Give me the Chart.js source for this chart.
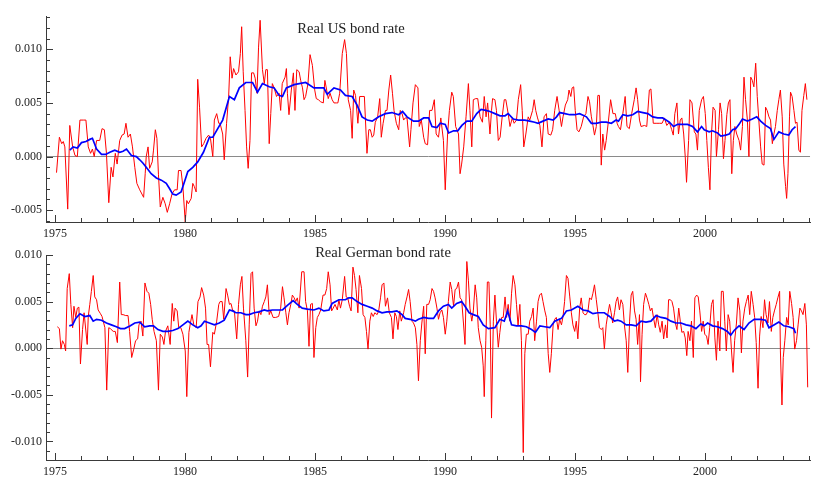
<!DOCTYPE html>
<html>
<head>
<meta charset="utf-8">
<script src="https://cdn.jsdelivr.net/npm/chart.js@4/dist/chart.umd.min.js"></script>
<style>
  html, body { margin: 0; padding: 0; background: #fff; }
  #wrap { position: relative; width: 814px; height: 477px; }
  canvas { position: absolute; left: 0; }
  #c1 { top: 0; }
  #c2 { top: 240px; }
</style>
</head>
<body>
<div id="wrap">
  <canvas id="c1" width="814" height="240"></canvas>
  <canvas id="c2" width="814" height="237"></canvas>
</div>
<script>
// ---------- DATA ----------
const titleUS = "Real US bond rate";
const titleDE = "Real German bond rate";

const xTickYears = [1975,1976,1977,1978,1979,1980,1981,1982,1983,1984,1985,1986,1987,1988,1989,1990,1991,1992,1993,1994,1995,1996,1997,1998,1999,2000,2001,2002,2003,2004];
const xLabelYears = [1975,1980,1985,1990,1995,2000];

const yTicksUS = [-0.006,-0.005,-0.004,-0.003,-0.002,-0.001,0,0.001,0.002,0.003,0.004,0.005,0.006,0.007,0.008,0.009,0.010,0.011,0.012,0.013];
const yLabelsUS = [-0.005,0,0.005,0.010];
const yTicksDE = [-0.012,-0.011,-0.010,-0.009,-0.008,-0.007,-0.006,-0.005,-0.004,-0.003,-0.002,-0.001,0,0.001,0.002,0.003,0.004,0.005,0.006,0.007,0.008,0.009,0.010];
const yLabelsDE = [-0.010,-0.005,0,0.005,0.010];

// Real US bond rate, [year, value]
const usRate = [
[1975.06,-0.0015],[1975.17,0.0018],[1975.26,0.0012],[1975.32,0.0014],[1975.38,0.0009],[1975.49,-0.0049],[1975.57,0.0029],[1975.68,0.0009],[1975.77,0.0001],[1975.86,0.0000],
[1975.96,0.0034],[1976.09,0.0034],[1976.19,0.0034],[1976.28,0.0009],[1976.37,0.0003],[1976.44,0.0007],[1976.51,0.0000],[1976.60,0.0015],[1976.72,0.0015],[1976.81,0.0026],
[1976.90,0.0025],[1976.98,0.0003],[1977.07,-0.0043],[1977.16,-0.0010],[1977.23,-0.0019],[1977.32,0.0003],[1977.39,-0.0007],[1977.49,0.0015],[1977.58,0.0020],[1977.66,0.0021],
[1977.73,0.0031],[1977.81,0.0018],[1977.90,0.0021],[1977.98,0.0009],[1978.07,-0.0010],[1978.15,-0.0025],[1978.26,-0.0031],[1978.41,-0.0038],[1978.47,-0.0016],[1978.51,0.0000],
[1978.58,0.0009],[1978.64,-0.0011],[1978.74,-0.0005],[1978.79,0.0006],[1978.86,0.0025],[1978.92,0.0017],[1978.98,-0.0017],[1979.05,-0.0047],[1979.15,-0.0038],[1979.24,-0.0044],
[1979.32,-0.0052],[1979.41,-0.0044],[1979.50,-0.0035],[1979.60,-0.0031],[1979.70,-0.0031],[1979.75,-0.0013],[1979.85,-0.0013],[1979.92,-0.0028],[1980.01,-0.0061],[1980.07,-0.0041],
[1980.13,-0.0044],[1980.24,-0.0039],[1980.30,-0.0025],[1980.36,-0.0028],[1980.43,-0.0033],[1980.49,0.0072],[1980.56,0.0046],[1980.64,0.0009],[1980.72,0.0012],[1980.81,0.0017],
[1980.91,0.0020],[1980.98,0.0017],[1981.07,0.0000],[1981.13,0.0034],[1981.22,0.0040],[1981.30,0.0031],
[1981.35,0.0031],[1981.45,0.0021],[1981.51,-0.0003],[1981.60,0.0031],[1981.68,0.0056],[1981.74,0.0093],[1981.81,0.0073],[1981.87,0.0082],[1981.96,0.0076],[1982.06,0.0079],
[1982.13,0.0096],[1982.18,0.0121],[1982.24,0.0079],[1982.31,0.0043],[1982.37,0.0009],[1982.43,-0.0011],[1982.50,0.0015],[1982.56,0.0078],[1982.64,0.0078],[1982.70,0.0073],
[1982.77,0.0059],[1982.83,0.0102],[1982.89,0.0127],[1982.98,0.0081],[1983.05,0.0068],[1983.11,0.0081],[1983.17,0.0081],[1983.24,0.0012],[1983.30,0.0040],[1983.36,0.0068],
[1983.43,0.0064],[1983.52,0.0056],[1983.62,0.0059],[1983.68,0.0043],[1983.74,0.0068],[1983.85,0.0074],[1983.90,0.0082],[1983.94,0.0059],[1984.00,0.0039],[1984.09,0.0062],
[1984.17,0.0078],[1984.23,0.0043],[1984.30,0.0081],[1984.39,0.0079],[1984.45,0.0071],[1984.52,0.0064],[1984.58,0.0053],[1984.64,0.0056],[1984.73,0.0068],[1984.81,0.0095],
[1984.90,0.0085],[1984.99,0.0062],[1985.05,0.0054],[1985.13,0.0053],[1985.22,0.0051],[1985.32,0.0050],[1985.38,0.0071],[1985.45,0.0062],[1985.51,0.0054],[1985.58,0.0059],
[1985.66,0.0053],[1985.73,0.0050],[1985.82,0.0050],[1985.88,0.0050],[1985.95,0.0059],[1986.05,0.0096],[1986.14,0.0109],[1986.21,0.0096],[1986.28,0.0053],[1986.37,0.0043],
[1986.43,0.0017],[1986.49,0.0062],[1986.56,0.0057],[1986.65,0.0031],[1986.72,0.0056],[1986.81,0.0056],[1986.90,0.0056],[1987.00,0.0003],[1987.07,0.0025],[1987.13,0.0025],
[1987.20,0.0018],[1987.26,0.0020],[1987.32,0.0032],[1987.41,0.0037],[1987.49,0.0054],[1987.55,0.0018],[1987.62,0.0031],[1987.71,0.0043],[1987.77,0.0043],[1987.84,0.0062],
[1987.91,0.0076],[1987.98,0.0059],[1988.04,0.0043],[1988.13,0.0031],[1988.22,0.0025],[1988.28,0.0043],[1988.35,0.0040],[1988.41,0.0034],[1988.47,0.0036],[1988.54,0.0036],
[1988.64,0.0009],[1988.69,0.0025],[1988.77,0.0050],[1988.86,0.0067],[1988.96,0.0064],
[1989.01,0.0028],[1989.09,0.0034],[1989.18,0.0018],[1989.24,0.0012],[1989.33,0.0011],[1989.41,0.0043],[1989.50,0.0043],[1989.59,0.0053],[1989.66,0.0021],[1989.75,0.0018],
[1989.84,0.0036],[1989.94,0.0015],[1990.01,-0.0031],[1990.10,0.0021],[1990.17,0.0043],[1990.26,0.0060],[1990.32,0.0056],[1990.41,0.0028],[1990.52,0.0021],[1990.58,-0.0016],
[1990.64,-0.0007],[1990.72,0.0009],[1990.81,0.0037],[1990.90,0.0068],[1990.96,0.0043],[1991.03,0.0009],[1991.09,0.0053],[1991.18,0.0054],[1991.26,0.0054],[1991.35,0.0037],
[1991.44,0.0032],[1991.51,0.0056],[1991.58,0.0037],[1991.64,0.0050],[1991.73,0.0021],[1991.79,0.0043],[1991.83,0.0054],[1991.92,0.0053],[1991.98,0.0043],[1992.05,0.0015],
[1992.12,0.0018],[1992.20,0.0037],[1992.28,0.0053],[1992.34,0.0053],[1992.43,0.0040],[1992.50,0.0028],[1992.59,0.0036],[1992.66,0.0031],[1992.75,0.0034],[1992.82,0.0053],
[1992.91,0.0067],[1992.97,0.0043],[1993.03,0.0009],[1993.11,0.0021],[1993.20,0.0037],[1993.26,0.0034],[1993.37,0.0043],[1993.43,0.0053],[1993.49,0.0043],[1993.56,0.0036],
[1993.65,0.0029],[1993.73,0.0009],[1993.81,0.0037],[1993.90,0.0040],[1993.97,0.0021],[1994.07,0.0020],[1994.14,0.0025],[1994.22,0.0043],[1994.31,0.0056],[1994.39,0.0043],
[1994.48,0.0028],[1994.54,0.0037],[1994.63,0.0048],[1994.72,0.0053],[1994.77,0.0062],[1994.84,0.0056],[1994.89,0.0064],[1994.95,0.0065],[1995.01,0.0043],[1995.08,0.0025],
[1995.15,0.0023],[1995.24,0.0028],[1995.33,0.0037],[1995.42,0.0040],[1995.50,0.0056],[1995.56,0.0051],[1995.63,0.0037],[1995.69,0.0029],[1995.75,0.0020],[1995.82,0.0028],
[1995.88,0.0057],[1995.94,0.0057],[1996.01,-0.0008],[1996.07,0.0021],[1996.14,0.0006],[1996.20,0.0015],[1996.29,0.0034],[1996.37,0.0053],[1996.46,0.0040],[1996.55,0.0040],
[1996.62,0.0031],
[1996.67,0.0028],[1996.75,0.0025],[1996.84,0.0040],[1996.93,0.0056],[1997.00,0.0028],[1997.09,0.0026],[1997.18,0.0040],[1997.28,0.0053],[1997.35,0.0064],[1997.41,0.0053],
[1997.48,0.0034],[1997.54,0.0028],[1997.67,0.0029],[1997.76,0.0028],[1997.86,0.0062],[1997.92,0.0063],[1998.01,0.0031],[1998.12,0.0031],[1998.24,0.0031],[1998.35,0.0031],
[1998.44,0.0036],[1998.53,0.0029],[1998.63,0.0032],[1998.72,0.0025],[1998.78,0.0020],[1998.84,0.0040],[1998.92,0.0050],[1998.98,0.0021],[1999.05,0.0034],[1999.11,0.0036],
[1999.18,0.0021],[1999.24,0.0000],[1999.29,-0.0024],[1999.37,0.0015],[1999.42,0.0053],[1999.50,0.0050],[1999.59,0.0023],[1999.65,0.0021],[1999.71,0.0006],[1999.78,0.0043],
[1999.87,0.0053],[1999.94,0.0056],[2000.01,0.0040],[2000.07,0.0015],[2000.13,-0.0010],[2000.19,-0.0031],[2000.25,0.0021],[2000.31,0.0046],[2000.39,0.0043],[2000.44,0.0000],
[2000.52,0.0025],[2000.58,0.0050],[2000.64,0.0040],[2000.71,-0.0002],[2000.77,0.0015],[2000.84,0.0039],[2000.90,0.0050],[2000.96,0.0053],[2001.03,-0.0016],[2001.09,0.0015],
[2001.15,0.0028],[2001.22,0.0021],[2001.31,0.0015],[2001.37,0.0006],[2001.44,0.0028],[2001.50,0.0074],[2001.56,0.0053],[2001.63,0.0034],[2001.69,0.0000],[2001.76,0.0074],
[2001.82,0.0071],[2001.88,0.0065],[2001.95,0.0087],[2002.01,0.0056],[2002.07,0.0034],[2002.14,0.0009],[2002.20,-0.0007],[2002.27,-0.0008],[2002.33,0.0046],[2002.39,0.0043],
[2002.46,0.0037],[2002.52,0.0034],[2002.59,0.0012],[2002.65,0.0021],[2002.71,0.0028],[2002.78,0.0043],[2002.84,0.0053],[2002.90,0.0062],[2002.97,0.0037],[2003.03,-0.0007],
[2003.10,-0.0028],[2003.14,-0.0039],[2003.19,-0.0016],[2003.25,0.0037],[2003.29,0.0060],[2003.35,0.0056],[2003.42,0.0043],[2003.48,0.0031],[2003.54,0.0032],[2003.61,0.0006],
[2003.67,0.0004],[2003.73,0.0043],[2003.80,0.0057],[2003.86,0.0068],[2003.92,0.0053]
];

// Smoothed US rate (blue), [year, value]
const usSmooth = [
[1975.57,0.0006],[1975.70,0.0009],[1975.86,0.0008],[1976.02,0.0013],[1976.19,0.0014],[1976.34,0.0016],[1976.44,0.0017],[1976.60,0.0007],[1976.79,0.0002],[1976.95,0.0002],
[1977.11,0.0004],[1977.30,0.0006],[1977.49,0.0004],[1977.62,0.0005],[1977.75,0.0007],[1977.94,0.0001],[1978.13,0.0000],[1978.26,-0.0003],[1978.38,-0.0006],[1978.51,-0.0010],
[1978.70,-0.0016],[1978.90,-0.0020],[1979.09,-0.0022],[1979.28,-0.0025],[1979.41,-0.0030],[1979.53,-0.0035],[1979.66,-0.0036],[1979.85,-0.0033],[1980.00,-0.0022],[1980.11,-0.0014],
[1980.30,-0.0010],[1980.49,-0.0005],[1980.71,0.0004],[1980.94,0.0018],[1981.07,0.0018],[1981.26,0.0026],
[1981.45,0.0034],[1981.71,0.0056],[1981.90,0.0053],[1982.09,0.0064],[1982.34,0.0069],[1982.60,0.0069],[1982.79,0.0060],[1982.98,0.0068],[1983.24,0.0065],[1983.43,0.0064],
[1983.62,0.0057],[1983.75,0.0056],[1983.90,0.0064],[1984.20,0.0067],[1984.64,0.0069],[1984.96,0.0064],[1985.34,0.0064],[1985.47,0.0058],[1985.73,0.0064],[1985.98,0.0062],
[1986.17,0.0057],[1986.43,0.0056],[1986.62,0.0048],[1986.81,0.0037],[1987.01,0.0034],[1987.20,0.0033],[1987.45,0.0037],[1987.71,0.0040],[1987.96,0.0041],[1988.22,0.0039],
[1988.37,0.0042],[1988.54,0.0037],[1988.79,0.0033],[1988.98,0.0033],
[1989.18,0.0036],[1989.37,0.0036],[1989.50,0.0028],[1989.69,0.0027],[1989.82,0.0031],[1990.01,0.0030],[1990.14,0.0022],[1990.33,0.0024],[1990.49,0.0024],[1990.65,0.0029],
[1990.84,0.0033],[1991.03,0.0033],[1991.22,0.0040],[1991.39,0.0044],[1991.57,0.0043],[1991.73,0.0042],[1991.92,0.0040],[1992.12,0.0038],[1992.31,0.0038],[1992.43,0.0040],
[1992.63,0.0035],[1992.82,0.0034],[1993.07,0.0034],[1993.26,0.0033],[1993.45,0.0032],[1993.58,0.0031],[1993.77,0.0033],[1993.97,0.0035],[1994.16,0.0034],[1994.29,0.0037],
[1994.41,0.0041],[1994.61,0.0040],[1994.80,0.0039],[1994.99,0.0039],[1995.18,0.0040],[1995.44,0.0037],[1995.63,0.0031],[1995.82,0.0031],[1996.01,0.0032],[1996.20,0.0032],
[1996.40,0.0031],[1996.58,0.0034],
[1996.67,0.0033],[1996.84,0.0039],[1997.03,0.0038],[1997.22,0.0039],[1997.41,0.0042],[1997.61,0.0041],[1997.80,0.0040],[1997.99,0.0037],[1998.18,0.0036],[1998.37,0.0036],
[1998.50,0.0034],[1998.63,0.0032],[1998.79,0.0028],[1998.95,0.0030],[1999.14,0.0030],[1999.33,0.0030],[1999.52,0.0028],[1999.71,0.0023],[1999.87,0.0028],[1999.97,0.0025],
[2000.16,0.0023],[2000.29,0.0024],[2000.48,0.0022],[2000.61,0.0019],[2000.80,0.0020],[2000.93,0.0021],[2001.06,0.0025],[2001.18,0.0026],[2001.31,0.0030],[2001.44,0.0035],
[2001.63,0.0033],[2001.82,0.0035],[2001.99,0.0037],[2002.14,0.0033],[2002.33,0.0029],[2002.52,0.0026],[2002.65,0.0016],[2002.84,0.0023],[2003.03,0.0021],[2003.22,0.0020],
[2003.35,0.0025],[2003.48,0.0028]
];

// Real German bond rate, [year, value]
const deRate = [
[1975.09,0.0023],[1975.17,0.0021],[1975.23,-0.0001],[1975.29,0.0008],[1975.36,0.0004],[1975.41,-0.0003],[1975.47,0.0064],[1975.55,0.0080],[1975.61,0.0047],[1975.68,0.0022],
[1975.73,0.0045],[1975.80,0.0033],[1975.86,0.0043],[1975.92,0.0044],[1975.98,-0.0017],[1976.06,0.0020],[1976.12,0.0038],[1976.24,0.0004],[1976.28,0.0034],[1976.34,0.0047],
[1976.40,0.0061],[1976.47,0.0078],[1976.53,0.0055],[1976.60,0.0052],[1976.66,0.0041],[1976.75,0.0037],[1976.81,0.0034],[1976.92,0.0022],[1976.99,-0.0045],[1977.07,0.0022],
[1977.13,0.0021],[1977.24,0.0018],[1977.32,0.0018],[1977.40,0.0006],[1977.49,0.0071],[1977.55,0.0036],[1977.62,0.0036],[1977.72,0.0035],[1977.81,0.0035],[1977.87,0.0018],
[1977.95,-0.0010],[1978.03,-0.0001],[1978.10,0.0008],[1978.18,0.0010],[1978.23,0.0025],[1978.31,0.0029],[1978.38,0.0013],[1978.46,0.0070],[1978.54,0.0061],[1978.61,0.0059],
[1978.68,0.0047],[1978.74,0.0031],[1978.81,0.0018],[1978.90,0.0008],[1978.98,-0.0045],[1979.05,0.0015],[1979.13,0.0012],[1979.19,0.0004],[1979.25,0.0018],[1979.34,0.0024],
[1979.43,0.0004],[1979.51,0.0048],[1979.57,0.0029],[1979.62,0.0043],[1979.70,0.0040],[1979.76,0.0022],[1979.84,0.0022],[1979.92,0.0015],[1980.01,-0.0003],[1980.07,-0.0052],
[1980.15,0.0017],[1980.21,0.0027],[1980.27,0.0036],[1980.34,0.0025],[1980.43,0.0022],[1980.50,0.0050],[1980.58,0.0055],[1980.64,0.0065],[1980.72,0.0057],[1980.79,0.0043],
[1980.85,0.0004],[1980.91,0.0004],[1980.98,-0.0020],[1981.07,0.0017],[1981.13,0.0015],[1981.22,0.0029],[1981.30,0.0047],
[1981.35,0.0050],[1981.43,0.0050],[1981.49,0.0031],[1981.58,0.0064],[1981.64,0.0057],[1981.71,0.0047],[1981.77,0.0048],[1981.83,0.0041],[1981.90,0.0040],[1981.99,0.0010],
[1982.06,0.0047],[1982.13,0.0068],[1982.19,0.0077],[1982.25,0.0043],[1982.34,0.0008],[1982.41,-0.0031],[1982.47,0.0025],[1982.54,0.0080],[1982.60,0.0082],[1982.66,0.0043],
[1982.73,0.0024],[1982.79,0.0029],[1982.85,0.0040],[1982.92,0.0036],[1982.98,0.0045],[1983.05,0.0050],[1983.11,0.0055],[1983.17,0.0068],[1983.24,0.0036],[1983.30,0.0040],
[1983.39,0.0033],[1983.49,0.0033],[1983.60,0.0034],[1983.68,0.0043],[1983.75,0.0066],[1983.81,0.0054],[1983.88,0.0038],[1983.94,0.0025],[1984.00,0.0038],[1984.07,0.0047],
[1984.13,0.0057],[1984.20,0.0054],[1984.26,0.0050],[1984.32,0.0054],[1984.39,0.0043],[1984.49,0.0082],[1984.58,0.0082],[1984.64,0.0050],[1984.71,0.0040],[1984.77,0.0002],
[1984.83,0.0047],[1984.90,0.0048],[1984.96,-0.0010],[1985.03,0.0022],[1985.09,0.0033],[1985.15,0.0036],[1985.22,0.0041],[1985.31,0.0057],[1985.38,0.0057],[1985.45,0.0064],
[1985.51,0.0082],[1985.58,0.0068],[1985.64,0.0040],[1985.70,0.0043],[1985.77,0.0047],[1985.86,0.0041],[1985.92,0.0052],[1985.98,0.0043],[1986.05,0.0052],[1986.14,0.0077],
[1986.20,0.0055],[1986.26,0.0054],[1986.33,0.0045],[1986.39,0.0040],[1986.46,0.0087],[1986.52,0.0078],[1986.58,0.0063],[1986.65,0.0038],[1986.71,0.0078],[1986.79,0.0064],
[1986.85,0.0036],[1986.92,0.0033],[1986.98,0.0018],[1987.04,-0.0001],[1987.11,0.0029],[1987.17,0.0038],[1987.24,0.0034],[1987.30,0.0038],[1987.39,0.0036],[1987.45,0.0040],
[1987.52,0.0054],[1987.58,0.0068],[1987.65,0.0070],[1987.71,0.0045],[1987.79,0.0054],[1987.86,0.0038],[1987.94,0.0033],[1988.00,0.0010],[1988.07,0.0038],[1988.13,0.0034],
[1988.19,0.0020],[1988.26,0.0040],[1988.32,0.0029],[1988.41,0.0038],[1988.47,0.0047],[1988.54,0.0055],[1988.60,0.0063],[1988.66,0.0050],[1988.73,0.0029],[1988.79,0.0027],
[1988.86,0.0022],[1988.92,0.0004],[1988.98,-0.0035],
[1989.05,0.0008],[1989.11,0.0027],[1989.18,0.0045],[1989.24,-0.0006],[1989.30,0.0047],[1989.37,0.0047],[1989.43,0.0052],[1989.50,0.0064],[1989.56,0.0061],[1989.62,0.0054],
[1989.69,0.0043],[1989.75,0.0031],[1989.81,0.0038],[1989.88,0.0041],[1989.94,0.0033],[1990.01,0.0015],[1990.07,0.0029],[1990.13,0.0050],[1990.20,0.0071],[1990.26,0.0063],
[1990.33,0.0045],[1990.39,0.0063],[1990.45,0.0064],[1990.52,0.0071],[1990.58,0.0054],[1990.64,0.0052],[1990.71,0.0027],[1990.77,0.0004],[1990.84,0.0093],[1990.90,0.0073],
[1990.96,0.0043],[1991.03,0.0029],[1991.09,0.0040],[1991.16,0.0068],[1991.22,0.0054],[1991.28,0.0022],[1991.35,0.0008],[1991.41,0.0001],[1991.47,-0.0019],[1991.51,-0.0052],
[1991.57,0.0008],[1991.63,0.0071],[1991.69,0.0071],[1991.74,0.0025],[1991.79,-0.0075],[1991.86,0.0029],[1991.92,0.0057],[1991.98,0.0029],[1992.05,0.0001],[1992.11,0.0017],
[1992.18,0.0033],[1992.24,0.0033],[1992.31,0.0055],[1992.37,0.0033],[1992.43,0.0047],[1992.50,0.0029],[1992.56,0.0059],[1992.62,0.0078],[1992.69,0.0068],[1992.75,0.0047],
[1992.81,0.0024],[1992.88,0.0047],[1992.94,0.0008],[1993.01,-0.0112],[1993.07,-0.0006],[1993.13,0.0015],[1993.20,0.0015],[1993.26,0.0029],[1993.33,0.0034],[1993.39,0.0043],
[1993.45,0.0008],[1993.52,0.0029],[1993.58,0.0050],[1993.64,0.0057],[1993.71,0.0059],[1993.77,0.0050],[1993.84,0.0040],[1993.90,0.0033],[1993.97,-0.0006],[1994.03,-0.0026],
[1994.09,-0.0006],[1994.16,0.0025],[1994.22,0.0031],[1994.28,0.0033],[1994.35,0.0020],[1994.41,0.0031],[1994.48,0.0025],[1994.54,0.0034],[1994.60,0.0050],[1994.67,0.0078],
[1994.73,0.0075],[1994.80,0.0055],[1994.86,0.0038],[1994.92,0.0025],[1994.99,0.0018],[1995.05,0.0029],[1995.11,0.0010],[1995.18,0.0043],[1995.24,0.0054],[1995.31,0.0038],
[1995.37,0.0036],[1995.43,0.0036],[1995.50,0.0040],[1995.56,0.0054],[1995.63,0.0052],[1995.69,0.0059],[1995.75,0.0068],[1995.82,0.0052],[1995.88,0.0038],[1995.94,0.0022],
[1996.01,0.0020],[1996.07,0.0022],[1996.13,-0.0001],[1996.20,0.0025],[1996.26,0.0036],[1996.33,0.0047],[1996.39,0.0038],[1996.45,0.0027],[1996.52,0.0038],[1996.58,0.0050],
[1996.64,0.0055],
[1996.71,0.0041],[1996.77,0.0052],[1996.84,0.0047],[1996.90,0.0025],[1996.97,0.0008],[1997.03,-0.0026],[1997.10,0.0029],[1997.16,0.0057],[1997.22,0.0061],[1997.29,0.0040],
[1997.35,0.0031],[1997.41,0.0004],[1997.48,0.0036],[1997.52,-0.0036],[1997.58,0.0015],[1997.64,0.0047],[1997.71,0.0059],[1997.77,0.0054],[1997.84,0.0047],[1997.90,0.0040],
[1997.96,0.0043],[1998.03,0.0031],[1998.09,0.0022],[1998.16,0.0036],[1998.22,0.0025],[1998.28,0.0017],[1998.35,0.0029],[1998.41,0.0010],[1998.48,0.0025],[1998.54,0.0011],
[1998.60,0.0052],[1998.67,0.0052],[1998.73,0.0050],[1998.79,0.0043],[1998.86,0.0027],[1998.92,0.0020],[1998.99,0.0043],[1999.05,0.0029],[1999.11,0.0017],[1999.18,0.0018],
[1999.24,0.0011],[1999.30,-0.0008],[1999.35,0.0018],[1999.42,0.0008],[1999.48,0.0029],[1999.55,-0.0010],[1999.61,0.0054],[1999.68,0.0057],[1999.74,0.0055],[1999.80,0.0040],
[1999.87,0.0018],[1999.93,0.0029],[1999.99,0.0015],[2000.06,0.0013],[2000.12,0.0004],[2000.18,0.0022],[2000.25,0.0047],[2000.31,0.0052],[2000.38,0.0011],[2000.44,-0.0013],
[2000.50,0.0029],[2000.57,-0.0003],[2000.63,0.0061],[2000.70,0.0061],[2000.76,0.0029],[2000.82,-0.0003],[2000.89,0.0036],[2000.95,0.0029],[2001.02,-0.0003],[2001.08,-0.0026],
[2001.14,0.0008],[2001.21,0.0027],[2001.27,0.0054],[2001.34,0.0040],[2001.40,-0.0005],[2001.46,0.0029],[2001.53,0.0043],[2001.59,0.0050],[2001.66,0.0057],[2001.72,0.0036],
[2001.78,0.0061],[2001.85,0.0047],[2001.91,0.0033],[2001.97,0.0006],[2002.04,-0.0043],[2002.10,0.0013],[2002.16,0.0034],[2002.23,0.0022],[2002.29,0.0052],[2002.35,0.0036],
[2002.42,0.0027],[2002.48,0.0050],[2002.55,0.0018],[2002.61,0.0033],[2002.67,0.0040],[2002.74,0.0047],[2002.80,0.0054],[2002.87,0.0061],[2002.90,-0.0003],[2002.96,-0.0061],
[2003.01,-0.0010],[2003.07,0.0008],[2003.14,0.0033],[2003.20,0.0025],[2003.26,0.0061],[2003.33,0.0048],[2003.39,0.0033],[2003.45,-0.0001],[2003.52,0.0008],[2003.58,0.0025],
[2003.65,0.0043],[2003.71,0.0040],[2003.77,0.0036],[2003.84,0.0048],[2003.90,0.0025],[2003.95,-0.0042]
];

// Smoothed German rate (blue), [year, value]
const deSmooth = [
[1975.55,0.0024],[1975.68,0.0025],[1975.80,0.0032],[1975.96,0.0037],[1976.15,0.0034],[1976.34,0.0035],[1976.47,0.0029],[1976.60,0.0031],[1976.79,0.0030],[1976.98,0.0027],
[1977.17,0.0025],[1977.36,0.0023],[1977.52,0.0021],[1977.68,0.0021],[1977.90,0.0024],[1978.07,0.0027],[1978.26,0.0028],[1978.45,0.0023],[1978.64,0.0024],[1978.79,0.0024],
[1978.96,0.0020],[1979.15,0.0018],[1979.34,0.0018],[1979.53,0.0019],[1979.73,0.0021],[1979.92,0.0025],[1980.11,0.0029],[1980.30,0.0025],[1980.49,0.0022],[1980.62,0.0024],
[1980.75,0.0029],[1980.94,0.0027],[1981.13,0.0025],[1981.32,0.0027],
[1981.51,0.0030],[1981.71,0.0041],[1981.83,0.0040],[1981.96,0.0038],[1982.15,0.0038],[1982.34,0.0036],[1982.47,0.0036],[1982.66,0.0038],[1982.85,0.0039],[1983.05,0.0041],
[1983.17,0.0040],[1983.36,0.0041],[1983.56,0.0041],[1983.75,0.0041],[1983.94,0.0046],[1984.16,0.0051],[1984.32,0.0047],[1984.51,0.0043],[1984.71,0.0042],[1984.96,0.0041],
[1985.15,0.0043],[1985.34,0.0040],[1985.54,0.0041],[1985.66,0.0048],[1985.92,0.0052],[1986.17,0.0052],[1986.30,0.0054],[1986.43,0.0054],[1986.62,0.0050],[1986.81,0.0047],
[1987.01,0.0045],[1987.20,0.0043],[1987.39,0.0040],[1987.58,0.0038],[1987.77,0.0039],[1987.96,0.0039],[1988.15,0.0040],[1988.35,0.0036],[1988.47,0.0032],[1988.66,0.0031],
[1988.86,0.0029],[1988.98,0.0031],
[1989.18,0.0033],[1989.37,0.0032],[1989.56,0.0032],[1989.75,0.0040],[1989.94,0.0045],[1990.13,0.0047],[1990.26,0.0043],[1990.45,0.0048],[1990.64,0.0050],[1990.77,0.0045],
[1990.93,0.0038],[1991.09,0.0036],[1991.28,0.0034],[1991.47,0.0025],[1991.67,0.0021],[1991.92,0.0022],[1992.11,0.0031],[1992.28,0.0029],[1992.41,0.0040],[1992.56,0.0025],
[1992.75,0.0024],[1992.94,0.0024],[1993.13,0.0023],[1993.33,0.0020],[1993.48,0.0017],[1993.65,0.0024],[1993.84,0.0023],[1994.03,0.0022],[1994.22,0.0029],[1994.48,0.0032],
[1994.67,0.0040],[1994.86,0.0041],[1995.11,0.0045],[1995.31,0.0041],[1995.50,0.0040],[1995.69,0.0037],[1995.88,0.0038],[1996.13,0.0038],[1996.33,0.0034],[1996.52,0.0029],
[1996.64,0.0030],
[1996.77,0.0029],[1996.97,0.0025],[1997.16,0.0025],[1997.35,0.0024],[1997.54,0.0029],[1997.73,0.0028],[1997.92,0.0029],[1998.12,0.0035],[1998.31,0.0033],[1998.50,0.0032],
[1998.69,0.0029],[1998.88,0.0027],[1999.08,0.0027],[1999.27,0.0025],[1999.46,0.0024],[1999.65,0.0021],[1999.84,0.0026],[1999.97,0.0024],[2000.10,0.0027],[2000.29,0.0024],
[2000.48,0.0023],[2000.67,0.0021],[2000.86,0.0018],[2000.99,0.0014],[2001.12,0.0019],[2001.31,0.0024],[2001.50,0.0020],[2001.69,0.0027],[2001.89,0.0031],[2002.14,0.0031],
[2002.33,0.0030],[2002.46,0.0022],[2002.65,0.0025],[2002.84,0.0028],[2003.03,0.0024],[2003.22,0.0023],[2003.42,0.0021],[2003.48,0.0016]
];

// ---------- STYLE / DRAWING ----------
const SERIF = "'Liberation Serif', 'Times New Roman', serif";
const TEXT = '#222222';
const AXIS = '#3a3a3a';
const RED = 'rgb(255,0,0)';
const BLUE = 'rgb(0,0,255)';

const pts = arr => arr.map(p => ({x: p[0], y: p[1]}));
const near = (a, b) => Math.abs(a - b) < 1e-9;

const inwardTicks = {
  id: 'inwardTicks',
  afterDraw(chart) {
    const {ctx, chartArea} = chart;
    const xs = chart.scales.x, ys = chart.scales.y;
    ctx.save();
    ctx.strokeStyle = AXIS;
    ctx.lineWidth = 1;
    ctx.beginPath();
    xs.ticks.forEach(t => {
      const px = Math.round(xs.getPixelForValue(t.value)) + 0.5;
      const len = (t.label !== '' ? 7 : 4);
      ctx.moveTo(px, chartArea.bottom);
      ctx.lineTo(px, chartArea.bottom - len);
    });
    ys.ticks.forEach(t => {
      const py = Math.round(ys.getPixelForValue(t.value)) + 0.5;
      const len = (t.label !== '' ? 7 : 4);
      ctx.moveTo(chartArea.left, py);
      ctx.lineTo(chartArea.left + len, py);
    });
    ctx.stroke();
    ctx.restore();
  }
};

const panelTitle = {
  id: 'panelTitle',
  afterDraw(chart, args, opts) {
    const {ctx} = chart;
    ctx.save();
    ctx.font = opts.font;
    ctx.fillStyle = TEXT;
    ctx.textAlign = 'center';
    ctx.textBaseline = 'middle';
    ctx.fillText(opts.text, opts.x, opts.y);
    ctx.restore();
  }
};

function makeChart(canvasId, rate, smooth, yMin, yMax, yTicks, yLabels, padTop, xAxisH, title, titleX, titleY) {
  return new Chart(document.getElementById(canvasId), {
    type: 'line',
    data: {
      datasets: [
        { data: pts(smooth), borderColor: BLUE, borderWidth: 1.7, pointRadius: 0, tension: 0, fill: false },
        { data: pts(rate), borderColor: RED, borderWidth: 1, pointRadius: 0, tension: 0, fill: false }
      ]
    },
    options: {
      responsive: false,
      animation: false,
      devicePixelRatio: 1,
      layout: { padding: { left: 0, right: 1, top: padTop, bottom: 0 } },
      plugins: {
        legend: { display: false },
        tooltip: { enabled: false },
        panelTitle: { text: title, x: titleX, y: titleY, font: '14.6px ' + SERIF }
      },
      scales: {
        x: {
          type: 'linear',
          min: 1974.655,
          max: 2004.04,
          afterBuildTicks: s => { s.ticks = xTickYears.map(v => ({value: v})); },
          afterFit: s => { s.height = xAxisH; },
          ticks: {
            autoSkip: false, maxRotation: 0, minRotation: 0, padding: 5,
            color: TEXT, font: { family: SERIF, size: 12 },
            callback: v => xLabelYears.includes(v) ? String(v) : ''
          },
          grid: { display: false, drawTicks: false },
          border: { display: true, color: AXIS, width: 1 }
        },
        y: {
          type: 'linear',
          min: yMin,
          max: yMax,
          afterBuildTicks: s => { s.ticks = yTicks.map(v => ({value: v})); },
          afterFit: s => { s.width = 46; },
          ticks: {
            autoSkip: false, padding: 4,
            color: TEXT, font: { family: SERIF, size: 12 },
            callback: v => yLabels.some(l => near(l, v)) ? v.toFixed(3) : ''
          },
          grid: {
            drawTicks: false,
            drawOnChartArea: true,
            color: c => (c.tick && near(c.tick.value, 0)) ? '#8a8a8a' : 'rgba(0,0,0,0)',
            lineWidth: 1
          },
          border: { display: true, color: AXIS, width: 1 }
        }
      }
    },
    plugins: [inwardTicks, panelTitle]
  });
}

makeChart('c1', usRate, usSmooth, -0.0061, 0.0131, yTicksUS, yLabelsUS, 16, 18, titleUS, 351, 29);
makeChart('c2', deRate, deSmooth, -0.012, 0.010, yTicksDE, yLabelsDE, 15, 17, titleDE, 383, 13);
</script>
</body>
</html>
